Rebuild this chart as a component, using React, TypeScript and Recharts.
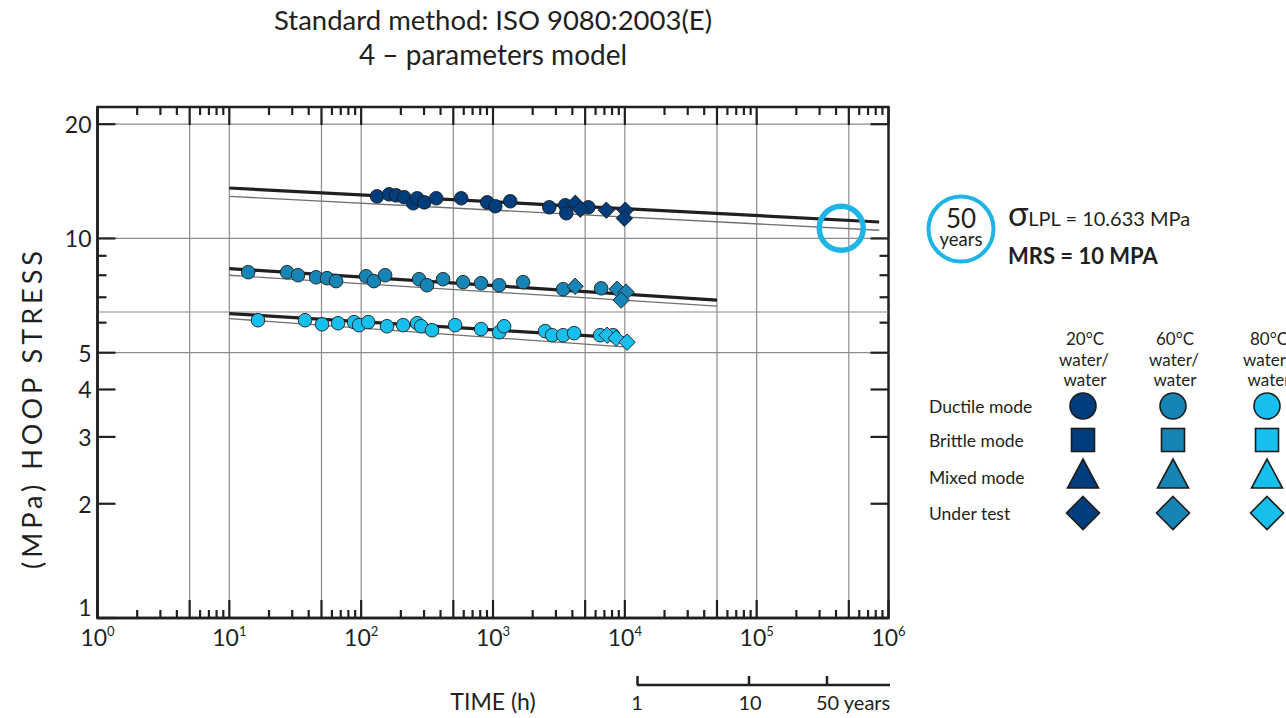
import { ScatterChart, Scatter, XAxis, YAxis, ReferenceLine, ReferenceArea, ReferenceDot } from 'recharts';

const W = 1286;
const H = 718;
const PLOT = { left: 97.5, top: 107, right: 888.5, bottom: 618 };
const INK = '#231f20';
const GRID = '#8c8c8c';
const FONT = 'Lato, "Open Sans", sans-serif';

const C20 = '#003d7d';
const C60 = '#1784b6';
const C80 = '#17bfee';
const RING = '#1eb5e6';

// axes
const X_DOMAIN = [1, 1e6];
const Y_DOMAIN = [1, 22.2];
const decades = [1, 10, 100, 1000, 10000, 100000];
const mantissas = [1, 2, 3, 4, 5, 6, 7, 8, 9];
const timeTicks = decades.flatMap((d) => mantissas.map((m) => m * d)).concat([1000000]);
const stressTicks = [1, 2, 3, 4, 5, 6, 7, 8, 9, 10, 20];
const stressLabels = [1, 2, 3, 4, 5, 10, 20];
const stressMinor = [6, 7, 8, 9];
const timeGrid = [5, 10, 50, 100, 500, 1000, 5000, 10000, 50000, 100000, 500000];
const stressGrid = [5, 6.4, 10, 20];

// 20°C water/water
const ductile20 = [
  { t: 132, s: 12.91 }, { t: 163, s: 13.07 }, { t: 184, s: 12.99 }, { t: 212, s: 12.84 },
  { t: 248, s: 12.38 }, { t: 266, s: 12.76 }, { t: 301, s: 12.45 }, { t: 371, s: 12.76 },
  { t: 574, s: 12.76 }, { t: 904, s: 12.45 }, { t: 1040, s: 12.16 }, { t: 1352, s: 12.53 },
  { t: 2672, s: 12.08 }, { t: 3535, s: 12.23 }, { t: 3597, s: 11.65 }, { t: 5284, s: 12.08 },
];
const underTest20 = [
  { t: 4210, s: 12.38 }, { t: 4595, s: 11.94 }, { t: 7238, s: 11.87 }, { t: 10088, s: 11.87 },
  { t: 9913, s: 11.3 },
];

// 60°C water/water
const ductile60 = [
  { t: 13.9, s: 8.15 }, { t: 27.4, s: 8.15 }, { t: 33.2, s: 8.0 }, { t: 45.5, s: 7.9 },
  { t: 55.1, s: 7.86 }, { t: 64.5, s: 7.72 }, { t: 109, s: 7.95 }, { t: 125, s: 7.72 },
  { t: 152, s: 8.0 }, { t: 275, s: 7.81 }, { t: 316, s: 7.53 }, { t: 418, s: 7.81 },
  { t: 593, s: 7.67 }, { t: 812, s: 7.62 }, { t: 1113, s: 7.53 }, { t: 1692, s: 7.67 },
  { t: 3403, s: 7.35 }, { t: 6611, s: 7.39 },
];
const underTest60 = [
  { t: 4196, s: 7.48 }, { t: 8744, s: 7.35 }, { t: 10230, s: 7.22 }, { t: 9374, s: 6.88 },
];

// 80°C water/water
const ductile80 = [
  { t: 16.5, s: 6.09 }, { t: 37.5, s: 6.09 }, { t: 50.5, s: 5.94 }, { t: 66.8, s: 5.98 },
  { t: 88.3, s: 6.02 }, { t: 96.4, s: 5.91 }, { t: 113, s: 6.02 }, { t: 157, s: 5.87 },
  { t: 208, s: 5.91 }, { t: 266, s: 5.98 }, { t: 285, s: 5.87 }, { t: 345, s: 5.73 },
  { t: 516, s: 5.91 }, { t: 812, s: 5.77 }, { t: 1113, s: 5.66 }, { t: 1214, s: 5.87 },
  { t: 2485, s: 5.7 }, { t: 2808, s: 5.56 }, { t: 3403, s: 5.56 }, { t: 4124, s: 5.63 },
  { t: 6495, s: 5.56 }, { t: 8150, s: 5.56 },
];
const underTest80 = [
  { t: 7338, s: 5.56 }, { t: 8590, s: 5.46 }, { t: 10400, s: 5.33 },
];

// regression lines: mean (thick) and lower prediction limit (thin)
const mean20 = [{ t: 10, s: 13.58 }, { t: 850000, s: 11.05 }];
const lpl20 = [{ t: 10, s: 12.91 }, { t: 850000, s: 10.51 }];
const mean60 = [{ t: 10, s: 8.33 }, { t: 50000, s: 6.88 }];
const lpl60 = [{ t: 10, s: 8.0 }, { t: 50000, s: 6.63 }];
const mean80 = [{ t: 10, s: 6.34 }, { t: 10400, s: 5.46 }];
const lpl80 = [{ t: 10, s: 6.15 }, { t: 10400, s: 5.17 }];

const FIFTY_YEARS_H = 438000;
const SIGMA_LPL = 10.633;

const dot = (color: string) => (p: any) => (
  <circle cx={p.cx} cy={p.cy} r={6.8} fill={color} stroke="#1d1d1b" strokeWidth={0.9} />
);
const diamond = (color: string) => (p: any) => {
  const d = 8.2;
  return (
    <polygon
      points={`${p.cx},${p.cy - d} ${p.cx + d},${p.cy} ${p.cx},${p.cy + d} ${p.cx - d},${p.cy}`}
      fill={color}
      stroke="#1d1d1b"
      strokeWidth={0.9}
    />
  );
};
const noShape = () => <g />;

const TimeTick = (props: any) => {
  const { x, y, payload } = props;
  const v = payload.value as number;
  const exp = Math.floor(Math.log10(v) + 1e-9);
  const mant = Math.round(v / Math.pow(10, exp));
  const len = mant === 1 || mant === 5 ? 18 : 8;
  return (
    <g>
      <line x1={x} x2={x} y1={y} y2={y - len} stroke={INK} strokeWidth={2.2} />
      <line x1={x} x2={x} y1={PLOT.top} y2={PLOT.top + len} stroke={INK} strokeWidth={2.2} />
      {mant === 1 && (
        <text x={x} y={y + 28} textAnchor="middle" fontSize={23} fill={INK} fontFamily={FONT}>
          10
          <tspan fontSize={13} dy={-10}>{exp}</tspan>
        </text>
      )}
    </g>
  );
};

const StressTick = (props: any) => {
  const { x, y, payload } = props;
  const v = payload.value as number;
  const len = stressMinor.includes(v) ? 9 : 18;
  return (
    <g>
      <line x1={x} x2={x + len} y1={y} y2={y} stroke={INK} strokeWidth={2.2} />
      <line x1={PLOT.right - len} x2={PLOT.right} y1={y} y2={y} stroke={INK} strokeWidth={2.2} />
      {stressLabels.includes(v) && (
        <text
          x={x - 6}
          y={v === 1 ? y - 11 : y}
          textAnchor="end"
          dominantBaseline="central"
          fontSize={23}
          fill={INK}
          fontFamily={FONT}
        >
          {v}
        </text>
      )}
    </g>
  );
};

function Legend() {
  const cols = [
    { x: 1083, color: C20, label: '20°C' },
    { x: 1173, color: C60, label: '60°C' },
    { x: 1267, color: C80, label: '80°C' },
  ];
  const rows = [
    { y: 406, label: 'Ductile mode' },
    { y: 440, label: 'Brittle mode' },
    { y: 477, label: 'Mixed mode' },
    { y: 513, label: 'Under test' },
  ];
  const st = { stroke: '#1d1d1b', strokeWidth: 1.6 };
  return (
    <g fontFamily={FONT} fill={INK}>
      {rows.map((r) => (
        <text key={r.label} x={929} y={r.y} fontSize={17.5} dominantBaseline="central" fill={INK}>
          {r.label}
        </text>
      ))}
      {cols.map((c) => (
        <g key={c.label}>
          <text x={c.x + 2} y={338} fontSize={17} textAnchor="middle" dominantBaseline="central" fill={INK}>{c.label}</text>
          <text x={c.x + 1} y={359} fontSize={17} textAnchor="middle" dominantBaseline="central" fill={INK}>water/</text>
          <text x={c.x + 2} y={379} fontSize={17} textAnchor="middle" dominantBaseline="central" fill={INK}>water</text>
          <circle cx={c.x} cy={406} r={13} fill={c.color} {...st} />
          <rect x={c.x - 11.5} y={428.5} width={23} height={23} fill={c.color} {...st} />
          <polygon points={`${c.x},${459} ${c.x + 15.5},${488} ${c.x - 15.5},${488}`} fill={c.color} {...st} />
          <polygon
            points={`${c.x},${496.5} ${c.x + 16.5},${513} ${c.x},${529.5} ${c.x - 16.5},${513}`}
            fill={c.color}
            {...st}
          />
        </g>
      ))}
    </g>
  );
}

export default function App() {
  return (
    <div style={{ position: 'absolute', left: 0, top: 0, width: W, height: H, background: '#fff', fontFamily: FONT }}>
      <div style={{ position: 'absolute', left: 0, width: 986, top: 2, textAlign: 'center', fontSize: 27.5, lineHeight: '35px', color: INK }}>
        <div>Standard method: ISO 9080:2003(E)</div>
        <div style={{ fontSize: 28 }}>4 – parameters model</div>
      </div>

      <div style={{ position: 'absolute', left: 0, top: 0 }}>
        <ScatterChart width={W} height={H} margin={{ top: PLOT.top, right: W - PLOT.right, bottom: 0, left: 0 }}>
          <XAxis
            dataKey="t"
            type="number"
            scale="log"
            domain={X_DOMAIN}
            allowDataOverflow
            ticks={timeTicks}
            interval={0}
            tick={(p: any) => <TimeTick {...p} />}
            tickLine={false}
            tickSize={0}
            tickMargin={0}
            axisLine={{ stroke: INK, strokeWidth: 2.5 }}
            height={H - PLOT.bottom}
            label={{ value: 'TIME (h)', position: 'insideBottom', offset: 8, fontSize: 23, fill: INK, fontFamily: FONT }}
          />
          <YAxis
            dataKey="s"
            type="number"
            scale="log"
            domain={Y_DOMAIN}
            allowDataOverflow
            ticks={stressTicks}
            interval={0}
            tick={(p: any) => <StressTick {...p} />}
            tickLine={false}
            tickSize={0}
            tickMargin={0}
            axisLine={{ stroke: INK, strokeWidth: 2.5 }}
            width={PLOT.left}
          />
          {timeGrid.map((v) => (
            <ReferenceLine key={`vx${v}`} x={v} stroke={GRID} strokeWidth={1.2} />
          ))}
          {stressGrid.map((v) => (
            <ReferenceLine key={`hy${v}`} y={v} stroke={GRID} strokeWidth={1.2} />
          ))}
          <ReferenceArea x1={1} x2={1e6} y1={1} y2={22.2} fill="none" fillOpacity={0} stroke={INK} strokeWidth={2.5} />

          <Scatter data={lpl20} shape={noShape} line={{ stroke: '#707070', strokeWidth: 1.3 }} isAnimationActive={false} />
          <Scatter data={lpl60} shape={noShape} line={{ stroke: '#707070', strokeWidth: 1.3 }} isAnimationActive={false} />
          <Scatter data={lpl80} shape={noShape} line={{ stroke: '#707070', strokeWidth: 1.3 }} isAnimationActive={false} />
          <Scatter data={mean20} shape={noShape} line={{ stroke: INK, strokeWidth: 3.2 }} isAnimationActive={false} />
          <Scatter data={mean60} shape={noShape} line={{ stroke: INK, strokeWidth: 3.2 }} isAnimationActive={false} />
          <Scatter data={mean80} shape={noShape} line={{ stroke: INK, strokeWidth: 3.2 }} isAnimationActive={false} />

          <Scatter data={ductile20} shape={dot(C20)} isAnimationActive={false} />
          <Scatter data={underTest20} shape={diamond(C20)} isAnimationActive={false} />
          <Scatter data={ductile60} shape={dot(C60)} isAnimationActive={false} />
          <Scatter data={underTest60} shape={diamond(C60)} isAnimationActive={false} />
          <Scatter data={ductile80} shape={dot(C80)} isAnimationActive={false} />
          <Scatter data={underTest80} shape={diamond(C80)} isAnimationActive={false} />

          <ReferenceDot x={FIFTY_YEARS_H} y={SIGMA_LPL} r={22} fill="none" stroke={RING} strokeWidth={5.5} />
        </ScatterChart>
      </div>

      <svg width={W} height={H} style={{ position: 'absolute', left: 0, top: 0, pointerEvents: 'none' }}>
        <text
          transform="translate(31,410) rotate(-90)"
          textAnchor="middle"
          dominantBaseline="central"
          fontSize={27}
          textLength={318}
          lengthAdjust="spacing"
          fill={INK}
          fontFamily={FONT}
        >
          (MPa) HOOP STRESS
        </text>

        <g fontFamily={FONT} fill={INK}>
          <circle cx={961} cy={229} r={32.5} fill="none" stroke={RING} strokeWidth={4} />
          <text x={961} y={228} textAnchor="middle" fontSize={26} fill={INK}>50</text>
          <text x={961} y={246} textAnchor="middle" fontSize={18.5} fill={INK}>years</text>
          <text x={1008} y={226} fontSize={20} fill={INK}>
            <tspan fontSize={34}>σ</tspan>
            <tspan>LPL = 10.633 MPa</tspan>
          </text>
          <text x={1008} y={264} fontSize={22} fontWeight={700} fill={INK}>MRS = 10 MPA</text>
        </g>

        <Legend />

        <g stroke={INK} strokeWidth={2.5}>
          <line x1={637} x2={890} y1={685} y2={685} />
          <line x1={637.5} x2={637.5} y1={676} y2={685} />
          <line x1={749} x2={749} y1={676} y2={685} />
          <line x1={827} x2={827} y1={676} y2={685} />
        </g>
        <g fontFamily={FONT} fontSize={20} fill={INK}>
          <text x={637} y={710} textAnchor="middle">1</text>
          <text x={750} y={710} textAnchor="middle">10</text>
          <text x={816} y={710}>50 years</text>
        </g>
      </svg>
    </div>
  );
}
